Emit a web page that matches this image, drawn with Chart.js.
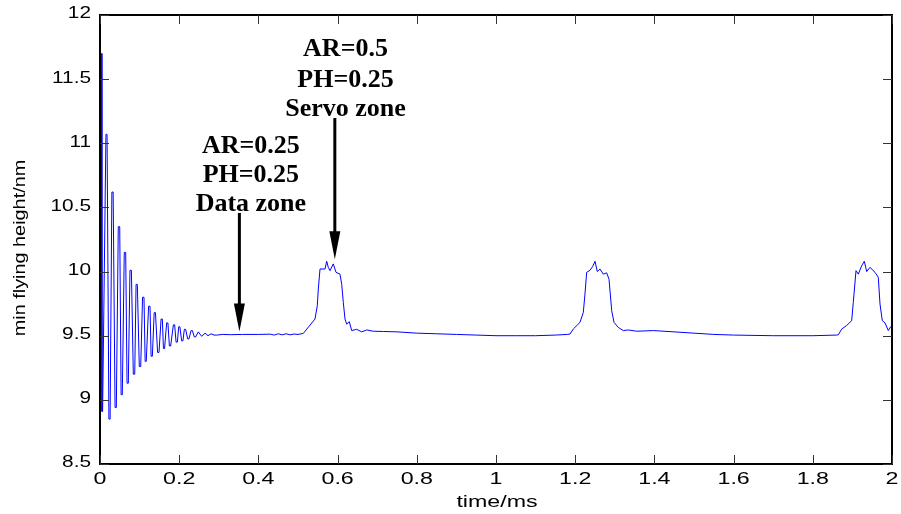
<!DOCTYPE html>
<html>
<head>
<meta charset="utf-8">
<script src="https://cdn.jsdelivr.net/npm/chart.js"></script>
<style>
    body { margin: 0; background: #fff; }
    canvas { display: block; }
</style>
</head>
<body>
<canvas id="heightChart" width="901" height="514"></canvas>
<script>
// time in ms, min flying height in nm (flat tops of the early ringing read as pairs)
const time = [
    0,
    0.0018, 0.0032, 0.0050, 0.0066, 0.0150, 0.0178, 0.0225, 0.0255, 0.0300, 0.0332,
    0.0380, 0.0412, 0.0462, 0.0498, 0.0533, 0.0563, 0.0613, 0.0649, 0.0683, 0.0715,
    0.0757, 0.0793, 0.0841, 0.0877, 0.0911, 0.0943, 0.0992, 0.1028, 0.1075, 0.1111,
    0.1140, 0.1168, 0.1227, 0.1263, 0.1290, 0.1322, 0.1368, 0.1400, 0.1454, 0.1490,
    0.1542, 0.1574, 0.1602, 0.1630, 0.1683, 0.1715, 0.1752, 0.1784, 0.1853, 0.1885,
    0.1921, 0.1953, 0.1989, 0.2017, 0.2062, 0.2094, 0.2130, 0.2162, 0.2214, 0.2246,
    0.2300, 0.2332, 0.2383, 0.2415,
    0.2482, 0.2568, 0.2652, 0.2727, 0.2803, 0.2879,
    0.295, 0.31, 0.33, 0.36, 0.40, 0.43, 0.44, 0.45, 0.46, 0.47, 0.48, 0.49, 0.50,
    0.5134, 0.5429, 0.5487, 0.5513, 0.5556, 0.5682, 0.5725, 0.5765, 0.5808, 0.5891,
    0.5960, 0.6061, 0.6104, 0.6144, 0.6187, 0.6230, 0.6295, 0.6356, 0.6482, 0.6609,
    0.6735, 0.6902, 0.7154, 0.75, 0.80, 0.85, 0.90, 0.95, 1.00, 1.05, 1.10, 1.15, 1.18,
    1.1869, 1.1952, 1.2121, 1.2205, 1.2247, 1.2290, 1.2374, 1.2442, 1.2500, 1.2558,
    1.2626, 1.2710, 1.2795, 1.2854, 1.2922, 1.2980, 1.3088, 1.3215, 1.3341, 1.3553,
    1.3972, 1.45, 1.50, 1.55, 1.60, 1.70, 1.80, 1.86,
    1.8644, 1.8730, 1.8856, 1.8982, 1.9023, 1.9091, 1.9149, 1.9235, 1.9301, 1.9361,
    1.9444, 1.9571, 1.9654, 1.9697, 1.9755, 1.9823, 1.9907, 1.9967, 2.0
];
const height = [
    10.0,
    11.70, 11.70, 8.91, 8.91, 11.07, 11.07, 8.85, 8.85, 10.62, 10.62,
    8.94, 8.94, 10.35, 10.35, 9.04, 9.04, 10.15, 10.15, 9.13, 9.13,
    10.01, 10.01, 9.20, 9.20, 9.90, 9.90, 9.26, 9.26, 9.80, 9.80,
    9.30, 9.30, 9.73, 9.73, 9.34, 9.34, 9.68, 9.68, 9.37, 9.37,
    9.63, 9.63, 9.40, 9.40, 9.60, 9.60, 9.42, 9.42, 9.585, 9.585,
    9.45, 9.45, 9.57, 9.57, 9.46, 9.46, 9.55, 9.55, 9.475, 9.475,
    9.54, 9.54, 9.49, 9.49,
    9.53, 9.495, 9.52, 9.50, 9.515, 9.505,
    9.505, 9.51, 9.508, 9.51, 9.51, 9.512, 9.505, 9.515, 9.507, 9.515, 9.507, 9.513, 9.51,
    9.518, 9.63, 9.734, 9.864, 10.02, 10.02, 10.08, 10.033, 10.007, 10.06,
    9.994, 9.98, 9.90, 9.76, 9.63, 9.59, 9.61, 9.54, 9.55, 9.53,
    9.545, 9.535, 9.533, 9.53, 9.52, 9.515, 9.51, 9.505, 9.50, 9.50, 9.50, 9.505, 9.51,
    9.513, 9.552, 9.604, 9.682, 9.825, 9.994, 10.01, 10.04, 10.08, 10.0,
    10.02, 9.98, 9.99, 9.94, 9.695, 9.604, 9.565, 9.54, 9.545, 9.535,
    9.54, 9.53, 9.52, 9.51, 9.505, 9.50, 9.50, 9.505,
    9.507, 9.552, 9.58, 9.617, 9.76, 10.007, 9.98, 10.046, 10.08, 10.0,
    10.033, 9.994, 9.955, 9.747, 9.617, 9.60, 9.54, 9.57, 9.565
];

const xTicks = [0, 0.2, 0.4, 0.6, 0.8, 1, 1.2, 1.4, 1.6, 1.8, 2];
const xTickLabels = ['0', '0.2', '0.4', '0.6', '0.8', '1', '1.2', '1.4', '1.6', '1.8', '2'];
const yTicks = [8.5, 9, 9.5, 10, 10.5, 11, 11.5, 12];
const yTickLabels = ['8.5', '9', '9.5', '10', '10.5', '11', '11.5', '12'];

const xTitle = 'time/ms';
const yTitle = 'min flying height/nm';

// annotation anchors in data units (text centre, baselines, arrow tail/tip)
const noteLines = [['AR=0.25', 'PH=0.25', 'Data zone'], ['AR=0.5', 'PH=0.25', 'Servo zone']];
const noteX = [0.381, 0.620];
const noteBaselines = [[10.924, 10.701, 10.475], [11.683, 11.441, 11.215]];
const arrowX = [0.352, 0.593];
const arrowFrom = [10.457, 11.197];
const arrowTo = [9.532, 10.096];

// axis text in the original is drawn wide
function wideText(ctx, text, x, y, sx) {
    ctx.save();
    ctx.translate(x, y);
    ctx.scale(sx, 1);
    ctx.fillText(text, 0, 0);
    ctx.restore();
}

function line(ctx, x1, y1, x2, y2) {
    ctx.beginPath();
    ctx.moveTo(x1, y1);
    ctx.lineTo(x2, y2);
    ctx.stroke();
}

const matlabAxes = {
    id: 'matlabAxes',
    afterDraw(chart) {
        const ctx = chart.ctx;
        const a = chart.chartArea;
        const x = chart.scales.x;
        const y = chart.scales.y;
        ctx.save();

        // box
        ctx.strokeStyle = '#000';
        ctx.lineWidth = 2;
        ctx.strokeRect(a.left, a.top, a.right - a.left, a.bottom - a.top);

        // inward ticks on all sides
        ctx.lineWidth = 1;
        ctx.strokeStyle = '#333';
        xTicks.forEach(v => {
            const px = Math.round(x.getPixelForValue(v)) + 0.5;
            line(ctx, px, a.bottom, px, a.bottom - 9);
            line(ctx, px, a.top, px, a.top + 9);
        });
        yTicks.forEach(v => {
            const py = Math.round(y.getPixelForValue(v)) + 0.5;
            line(ctx, a.left, py, a.left + 9, py);
            line(ctx, a.right, py, a.right - 9, py);
        });

        // tick labels
        ctx.fillStyle = '#000';
        ctx.font = '16px "Liberation Sans", Arial, sans-serif';
        ctx.textBaseline = 'alphabetic';
        ctx.textAlign = 'center';
        xTicks.forEach((v, i) => {
            wideText(ctx, xTickLabels[i], x.getPixelForValue(v), a.bottom + 20, 1.45);
        });
        ctx.textAlign = 'right';
        ctx.textBaseline = 'middle';
        yTicks.forEach((v, i) => {
            wideText(ctx, yTickLabels[i], a.left - 9, y.getPixelForValue(v) - 1, 1.3);
        });

        // axis titles
        ctx.textAlign = 'center';
        ctx.textBaseline = 'alphabetic';
        wideText(ctx, xTitle, (a.left + a.right) / 2 + 1, a.bottom + 43, 1.45);
        ctx.save();
        ctx.translate(25, 248);
        ctx.rotate(-Math.PI / 2);
        ctx.scale(1.24, 1);
        ctx.fillText(yTitle, 0, 0);
        ctx.restore();

        // annotations
        ctx.font = 'bold 26px "Liberation Serif", "Times New Roman", serif';
        ctx.textAlign = 'center';
        noteLines.forEach((lines, n) => {
            lines.forEach((txt, k) => {
                ctx.fillText(txt, x.getPixelForValue(noteX[n]), y.getPixelForValue(noteBaselines[n][k]));
            });
            const ax = x.getPixelForValue(arrowX[n]);
            const y1 = y.getPixelForValue(arrowFrom[n]);
            const y2 = y.getPixelForValue(arrowTo[n]);
            ctx.strokeStyle = '#000';
            ctx.lineWidth = 3;
            line(ctx, ax, y1, ax, y2 - 20);
            ctx.beginPath();
            ctx.moveTo(ax, y2);
            ctx.lineTo(ax - 5.5, y2 - 28);
            ctx.lineTo(ax + 5.5, y2 - 28);
            ctx.closePath();
            ctx.fill();
        });

        ctx.restore();
    }
};

function renderChart() {
    const ctx = document.getElementById('heightChart').getContext('2d');
    new Chart(ctx, {
        type: 'line',
        data: {
            datasets: [{
                data: time.map((t, i) => ({ x: t, y: height[i] })),
                borderColor: '#0000ff',
                borderWidth: 1,
                pointRadius: 0,
                tension: 0,
                fill: false
            }]
        },
        options: {
            responsive: false,
            animation: false,
            layout: { padding: { left: 100, right: 9, top: 15, bottom: 50 } },
            plugins: {
                legend: { display: false },
                tooltip: { enabled: false }
            },
            scales: {
                x: { type: 'linear', min: 0, max: 2, display: false },
                y: { type: 'linear', min: 8.5, max: 12, display: false }
            }
        },
        plugins: [matlabAxes]
    });
}

renderChart();
</script>
</body>
</html>
